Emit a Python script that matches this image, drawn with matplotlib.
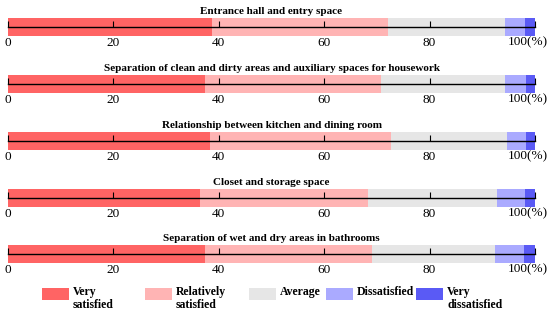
import matplotlib.pyplot as plt
from matplotlib.patches import Rectangle
from matplotlib.transforms import ScaledTranslation

plt.rcParams['font.family'] = ['Liberation Serif', 'DejaVu Serif']

titles = ['Entrance hall and entry space',
          'Separation of clean and dirty areas and auxiliary spaces for housework',
          'Relationship between kitchen and dining room',
          'Closet and storage space',
          'Separation of wet and dry areas in bathrooms']
levels = ['Very\nsatisfied', 'Relatively\nsatisfied', 'Average', 'Dissatisfied', 'Very\ndissatisfied']
colors = ['#ff6464', '#ffb4b4', '#e6e6e6', '#aaaaff', '#5a5af5']

very_satisfied = [38.7, 37.4, 38.3, 36.4, 37.4]
rel_satisfied = [33.4, 33.3, 34.3, 32.0, 31.6]
average = [22.3, 23.6, 22.1, 24.4, 23.5]
dissatisfied = [3.7, 4.0, 3.6, 5.3, 5.4]
very_dissatisfied = [1.9, 1.7, 1.7, 1.9, 2.1]
series = [very_satisfied, rel_satisfied, average, dissatisfied, very_dissatisfied]
ticks = [0, 20, 40, 60, 80, 100]
tick_labels = ['0', '20', '40', '60', '80', '100(%)']

fig = plt.figure(figsize=(5.5, 3.15), dpi=100)
W, H = 550, 315
bar_top = [18, 75, 132, 189, 245]
bar_h = 18
for i, t in enumerate(titles):
    ax = fig.add_axes([8 / W, 1 - (bar_top[i] + bar_h) / H, 527 / W, bar_h / H])
    left = 0
    for s, c in zip(series, colors):
        ax.barh(0, s[i], left=left, height=1.0, color=c, linewidth=0)
        left += s[i]
    ax.set_xlim(0, 100)
    ax.set_ylim(-0.5, 0.5)
    for sp in ['top', 'left', 'right']:
        ax.spines[sp].set_visible(False)
    ax.spines['bottom'].set_position(('data', 0))
    ax.spines['bottom'].set_linewidth(1.0)
    ax.set_yticks([])
    ax.set_xticks(ticks)
    ax.set_xticklabels(tick_labels)
    ax.tick_params(axis='x', direction='in', length=4, width=0.8, pad=7, labelsize=9.5)
    last = ax.get_xticklabels()[-1]
    last.set_horizontalalignment('right')
    last.set_transform(last.get_transform() + ScaledTranslation(13 / 100, 0, fig.dpi_scale_trans))
    ax.set_title(t, fontsize=8, fontweight='bold', pad=3)

# legend row
lx = [42, 145, 249, 326, 416]
for x, lab, c in zip(lx, levels, colors):
    fig.patches.append(Rectangle((x / W, 1 - 300 / H), 27 / W, 12 / H,
                                 transform=fig.transFigure, color=c, lw=0))
    fig.text((x + 31) / W, 1 - 286 / H, lab, fontsize=8.5, fontweight='bold',
             va='top', ha='left', linespacing=1.1)

fig.savefig('out.png', dpi=100)
